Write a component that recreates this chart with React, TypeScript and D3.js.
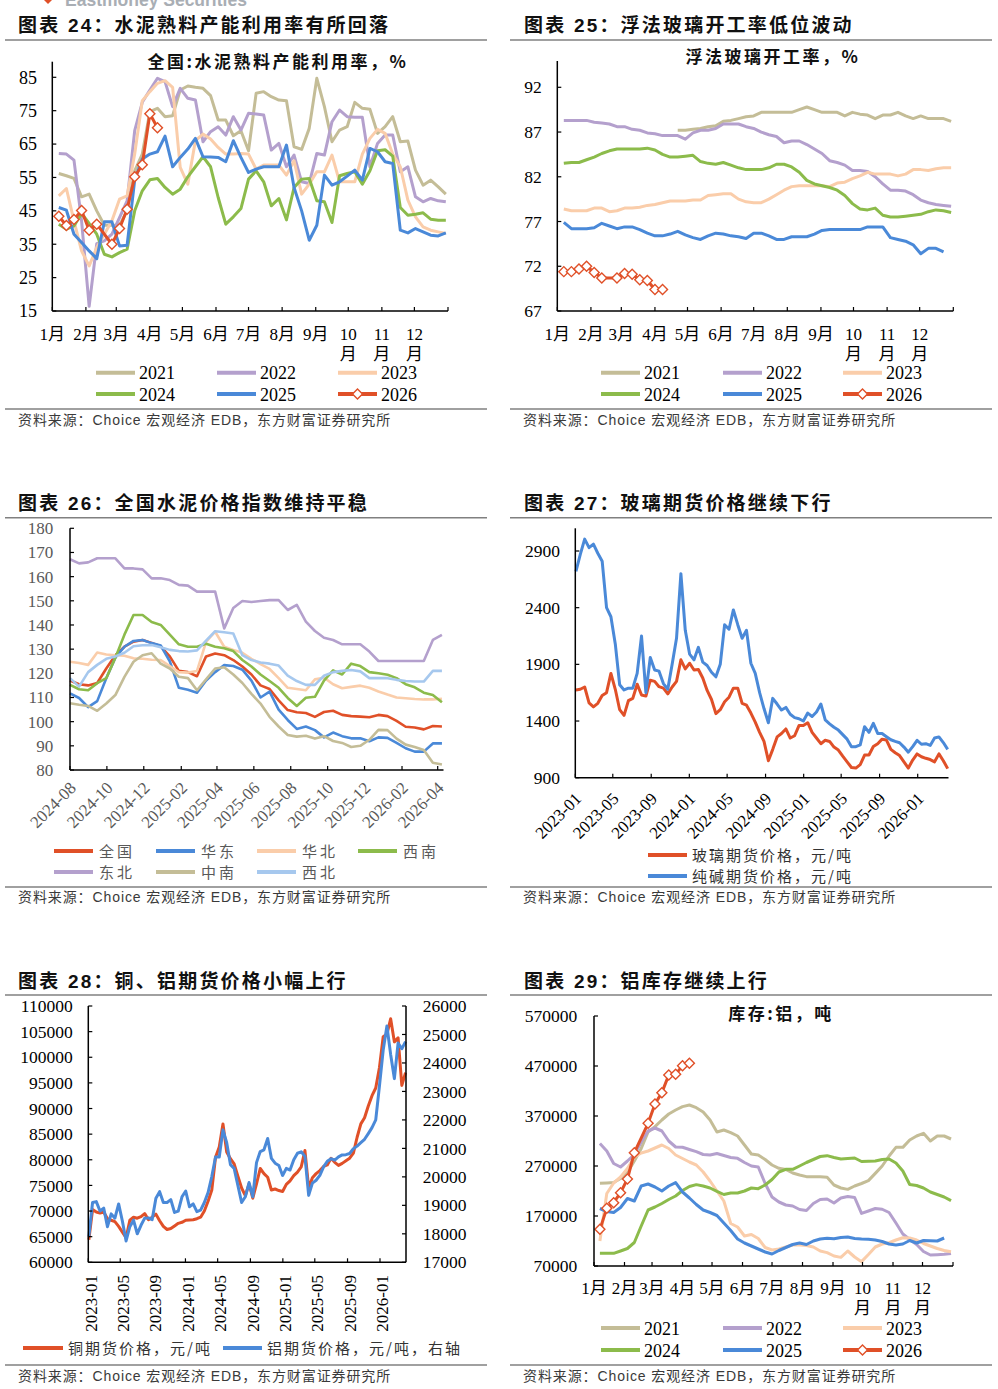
import * as d3 from 'd3';

const SERIF = '"Liberation Serif", "Times New Roman", "Noto Sans CJK SC", serif';
const SANS = '"Liberation Sans", Arial, "Noto Sans CJK SC", sans-serif';
const CJK = '"Noto Sans CJK SC", "Liberation Sans", sans-serif';

const RED = '#e05028';
const BLUE = '#4a89d8';
const TAN = '#c4bd97';
const PURPLE = '#b4a0cd';
const PEACH = '#facdaa';
const GREEN = '#8cbb4b';
const SKY = '#a6c8ee';

// ---------- seasonal charts: one weekly line per year ----------
const YEARS = ['2021', '2022', '2023', '2024', '2025', '2026'];
const YEAR_COLORS = [TAN, PURPLE, PEACH, GREEN, BLUE, RED];
const MONTH_LABELS = ['1月', '2月', '3月', '4月', '5月', '6月', '7月', '8月', '9月', '10月', '11月', '12月'];

// 全国水泥熟料产能利用率, %
const CLINKER_TICKS = [15, 25, 35, 45, 55, 65, 75, 85];
const clinker2021 = [56.2, 55.5, 54.7, 49.2, 50, 45, 40.7, 40.7, 40.7, 45, 57, 62, 74.7, 75.7, 73.2, 73.5, 81.2, 82.4, 82, 81.7, 79.5, 72.2, 72.2, 67.5, 69, 63, 80.2, 80.7, 79.2, 78.2, 78, 64.2, 63.4, 69.7, 84.7, 76.2, 65.7, 69.2, 70.2, 77.5, 75.7, 75.4, 68.2, 70.2, 73.2, 65.7, 65.9, 57.2, 52.7, 54.2, 52.2, 50];
const clinker2022 = [62.2, 62, 60.2, 42, 16.4, 35.2, 36, 38, 43, 48, 69, 77.5, 81.2, 84.7, 83.7, 76.2, 81.7, 78.7, 78.2, 65.7, 68.7, 70.2, 67.7, 73.2, 69.2, 74.2, 74, 73.7, 63.2, 65.2, 58.2, 61.7, 53.7, 53.2, 62.2, 61.7, 71.7, 75.2, 73.2, 73, 73, 58.2, 65.2, 67.7, 67.7, 56.7, 58.2, 49.2, 47.7, 48.7, 48, 47.7];
const clinker2023 = [49.5, 51.7, 42, 33, 28.5, 34, 38, 42, 48.5, 49.5, 62, 78, 80.7, 83.2, 84, 82, 58, 53, 66, 68, 66.5, 64, 62, 62, 62.2, 62, 57.5, 58.7, 58.7, 58.7, 55.7, 60, 50, 53, 56.7, 56.7, 61.7, 53.7, 53.7, 53.7, 62, 66.7, 69.4, 68.2, 62, 58.2, 48.2, 43.2, 40.2, 39.2, 38.7, 38.2];
const clinker2024 = [41, 39.5, 40.5, 44.2, 41.2, 38, 32, 31.2, 32.5, 33.5, 45, 51, 54.3, 54.7, 52, 50, 51.5, 55.2, 58.2, 61.2, 58.2, 49, 41, 43.2, 45.7, 54.5, 57, 53.7, 46.5, 48.7, 42.3, 52, 54.5, 54.7, 48, 47.7, 41.5, 55.5, 56.2, 56.7, 53, 57, 63, 63.3, 61.4, 46, 43.7, 44, 44.4, 42.5, 42.2, 42.2];
const clinker2025 = [46, 45.2, 38, 35.5, 33, 30.7, 41.7, 41.7, 34.5, 34.7, 54.2, 60.5, 62, 62.7, 67.4, 58.2, 61, 63.5, 66.7, 61.2, 61.1, 61, 59.7, 66, 61, 56.5, 57.5, 58.2, 58.2, 58.2, 64.7, 52, 45, 36.2, 40.7, 55.7, 52.7, 53.7, 55.4, 57.2, 54.2, 63.7, 62.7, 59.7, 59.2, 39.2, 38.4, 39.7, 38.7, 37.7, 37.5, 38.4];
const clinker2026 = [43.4, 40.6, 42.4, 45.1, 39.2, 41, null, 35, 39.7, 45.5, 55.2, 58.8, 74.1, 69.9];

// 浮法玻璃开工率, %
const GLASS_RATE_TICKS = [67, 72, 77, 82, 87, 92];
const glassRate2021 = [null, null, null, null, null, null, null, null, null, null, null, null, null, null, null, 87.2, 87.2, 87.3, 87.4, 87.6, 87.7, 88.2, 88.3, 88.5, 88.7, 88.8, 89.2, 89.2, 89.2, 89.2, 89.2, 89.5, 89.8, 89.5, 89.2, 89.2, 89.2, 88.8, 89.2, 89.0, 88.9, 88.5, 88.9, 88.9, 89.2, 88.8, 88.5, 88.8, 88.5, 88.5, 88.5, 88.2];
const glassRate2022 = [88.3, 88.3, 88.3, 88.3, 88.1, 88, 87.9, 87.6, 87.6, 87.3, 87.2, 86.9, 86.8, 86.6, 86.6, 86.6, 86.2, 86.9, 87.2, 87.2, 87.4, 87.9, 87.9, 87.9, 87.6, 87.4, 87.0, 86.7, 86.5, 85.8, 86, 86, 85.6, 85.1, 84.6, 83.8, 83.6, 83.3, 82.7, 82.7, 82.6, 82, 81.2, 80.5, 80.5, 80.4, 80, 79.4, 79.1, 78.9, 78.8, 78.7];
const glassRate2023 = [78.4, 78.2, 78.2, 78.2, 78.5, 78.5, 78.1, 78.2, 78.5, 78.5, 78.6, 78.8, 78.9, 79.1, 79.3, 79.3, 79.3, 79.4, 79.4, 79.9, 80, 80.1, 80.1, 79.5, 79.2, 79.1, 79.1, 79.5, 80, 80.5, 80.9, 81, 81, 81, 81, 80.9, 81.3, 81.4, 81.8, 82.1, 82.5, 82.3, 82.3, 82.3, 82.1, 82.3, 82.8, 82.8, 82.7, 82.9, 83, 83];
const glassRate2024 = [83.5, 83.6, 83.6, 83.9, 84.2, 84.6, 84.9, 85.1, 85.1, 85.1, 85.1, 85.2, 85, 84.5, 84.2, 84.2, 84.3, 84.4, 83.7, 83.5, 83.4, 83.6, 83.3, 83, 82.8, 82.8, 82.8, 83, 83.4, 83.4, 83.1, 82.5, 81.6, 81.2, 81, 80.8, 80.5, 79.9, 79, 78.4, 78.3, 78.5, 77.7, 77.5, 77.5, 77.6, 77.7, 77.8, 78.1, 78.3, 78.2, 78];
const glassRate2025 = [76.9, 76.2, 76.2, 76.2, 76.3, 76.8, 76.5, 76.2, 76.4, 76.4, 76.1, 75.7, 75.4, 75.4, 75.6, 75.9, 75.5, 75.2, 75, 75.4, 75.7, 75.6, 75.4, 75.3, 75.1, 75.7, 75.7, 75.4, 75, 75, 75.3, 75.3, 75.3, 75.6, 76, 76.1, 76.1, 76.1, 76.1, 76.1, 76.4, 76.4, 76.4, 75.2, 75, 74.8, 74.4, 73.4, 74, 74, 73.6];
const glassRate2026 = [71.4, 71.4, 71.7, 72, 71.3, 70.7, null, 70.7, 71.2, 71.1, 70.5, 70.4, 69.4, 69.4];

// 库存:铝, 吨
const ALU_STOCK_TICKS = [70000, 170000, 270000, 370000, 470000, 570000];
const aluStock2021 = [235300, 236000, 237000, 245000, 257000, 280000, 305000, 338000, 348700, 362000, 374000, 382000, 388700, 392000, 386700, 378000, 362000, 338000, 342000, 336700, 330000, 312000, 294000, 292000, 283000, 272000, 265300, 263000, 256000, 252000, 248700, 248700, 248700, 247300, 232000, 226000, 223300, 230000, 235000, 240700, 255300, 270000, 290000, 307300, 307300, 322000, 330000, 335300, 320000, 330000, 330000, 324000];
const aluStock2022 = [315000, 300000, 275000, 268000, 280000, 293000, 318000, 340000, 346000, 340000, 320000, 308000, 307500, 303000, 298700, 293000, 292000, 295000, 291000, 287000, 285300, 277000, 270000, 268000, 235000, 208000, 198000, 192000, 190000, 183000, 181000, 195000, 203000, 204000, 196000, 206000, 209000, 207000, 175300, 180000, 185000, 183500, 177000, 156000, 134000, 123000, 113000, 99000, 92000, 92500, 93300, 95000];
const aluStock2023 = [120000, 215000, 236000, 248000, 265000, 288000, 296000, 300000, 306000, 312000, 305000, 292000, 285000, 278000, 272000, 258000, 240000, 220000, 200000, 155000, 148000, 130000, 133000, 125000, 107000, 102000, 104000, 108000, 112000, 112000, 111000, 108000, 100000, 96700, 90000, 87300, 100000, 88000, 78700, 93000, 108000, 114000, 116500, 122000, 126500, 126000, 122000, 115000, 110000, 105000, 101000, 98700];
const aluStock2024 = [95300, 95300, 95300, 100000, 105000, 117000, 150000, 182000, 188000, 195000, 203000, 210000, 221000, 229000, 232700, 230000, 226000, 219300, 213000, 216000, 216000, 220000, 226000, 224700, 232000, 243000, 258000, 263300, 263300, 270000, 277000, 283000, 289000, 290700, 287000, 284000, 285000, 286000, 279000, 279500, 280000, 283000, 284000, 276000, 260000, 233000, 231000, 226000, 218000, 213000, 208000, 200700];
const aluStock2025 = [185000, 179000, 177000, 187000, 205000, 200000, 230000, 234000, 228000, 220000, 230000, 236700, 218000, 206000, 193000, 182000, 177000, 171000, 156000, 141000, 124000, 116000, 110000, 104000, 98000, 94000, 101000, 107000, 113000, 116000, 113000, 120000, 124000, 125300, 124500, 127000, 128000, 125000, 124000, 123500, 122000, 119000, 114000, 112000, 114000, 121000, 116000, 121000, 120500, 120000, 126000];
const aluStock2026 = [143300, 185300, 196700, 216700, 244000, 296700, null, 355300, 394000, 416700, 452000, 453300, 470700, 475300];

// ---------- 水泥价格指数 (every 15 days from 2024-08-01) ----------
const CEMENT_START = new Date(2024, 7, 1);
const CEMENT_STEP = 15;
const CEMENT_Y_TICKS = [80, 90, 100, 110, 120, 130, 140, 150, 160, 170, 180];
const CEMENT_X_TICKS = ['2024-08', '2024-10', '2024-12', '2025-02', '2025-04', '2025-06', '2025-08', '2025-10', '2025-12', '2026-02', '2026-04'];
const REGIONS = ['全国', '华东', '华北', '西南', '东北', '中南', '西北'];
const REGION_COLORS = [RED, BLUE, PEACH, GREEN, PURPLE, TAN, SKY];
const cementNation = [117, 115.5, 115, 116, 122, 127.5, 131, 133.1, 133.8, 132.6, 131.2, 127, 121, 120.5, 118.8, 127, 128.2, 127.5, 125.5, 122.8, 119.5, 115, 113.5, 108.8, 104.8, 103.9, 103.6, 102, 104, 104.5, 102.8, 102.3, 102.1, 101.8, 102.8, 102.3, 100.3, 97.9, 97.6, 96.8, 98.2, 98];
const cementEast = [111.7, 109.8, 106, 108.5, 118, 126.5, 131, 133.4, 133.8, 132.5, 131.5, 125, 114, 113.2, 112, 117, 120.5, 123.4, 123, 121.5, 117, 110, 112.4, 105, 100.7, 97, 98, 96.5, 93.5, 95.5, 94, 93.1, 93.1, 91.9, 93.5, 93.3, 91.2, 89, 87.6, 87.6, 91, 91];
const cementNorth = [124.8, 124.3, 123.5, 128.6, 127.8, 127.5, 127.3, 126.2, 126, 125.6, 125.5, 123, 120.5, 120.3, 121, 133, 137.2, 131, 129.7, 128.5, 126, 123.8, 121.8, 118, 114, 113.5, 113, 117.5, 118.2, 115.5, 113.8, 114.4, 114.9, 114, 112.5, 111.2, 110, 109.7, 109.4, 109.2, 109.2, 109.5];
const cementSouthwest = [115.2, 113.4, 113, 115.9, 118, 126.5, 136, 144.1, 144.1, 141.2, 140, 136, 132, 131, 131, 132.2, 131, 130.4, 129.2, 125.5, 122.8, 119.5, 116.8, 114, 109.8, 106.5, 109.9, 110.3, 117, 121.2, 119.5, 124, 123, 120.5, 120, 119.4, 118, 115.5, 114.2, 112, 111, 108];
const cementNortheast = [167.2, 165.5, 165.9, 167.6, 167.6, 167.6, 163.4, 163.4, 163, 159.3, 159.3, 158.6, 156.6, 156.3, 153.8, 153.8, 153.8, 138.6, 147, 149.9, 149.5, 149.9, 150.3, 150.3, 146.2, 148.3, 141.4, 137.5, 134.7, 133.8, 132, 132, 132, 129, 125.1, 125.1, 125.1, 125.1, 125.1, 125.1, 133.8, 135.9];
const cementCentralSouth = [107.6, 107, 106.5, 104.5, 107.5, 111, 118.5, 124.8, 127.5, 128.3, 124, 122, 118.6, 118, 113, 117.5, 122, 122.5, 119.5, 116, 111.5, 107.5, 102, 98, 94.5, 93.8, 94.2, 93, 94, 92, 91.2, 89.5, 90, 92.5, 96.6, 96.5, 93, 90.5, 89.5, 88.3, 83, 82.3];
const cementNorthwest = [118, 114.5, 120.5, 123.5, 126, 127, 128.5, 131.2, 131.6, 131.7, 130.8, 129.7, 129.2, 129, 129.5, 133.5, 137.4, 137, 136.5, 127.5, 125.5, 124.5, 124, 123.2, 119, 116.8, 115.2, 115.2, 119, 120.5, 121, 121.4, 120.8, 118, 118, 118, 117.3, 116.8, 116.6, 116.6, 121, 121];

// ---------- futures (every 14 days from 2023-01-03) ----------
const FUT_START = new Date(2023, 0, 3);
const FUT_STEP = 14;
const FUT_X_TICKS = ['2023-01', '2023-05', '2023-09', '2024-01', '2024-05', '2024-09', '2025-01', '2025-05', '2025-09', '2026-01'];

const GLASS_Y_TICKS = [900, 1400, 1900, 2400, 2900];
const glassFut = [1674, 1680, 1700, 1560, 1525, 1556, 1625, 1650, 1820, 1680, 1500, 1450, 1580, 1600, 1725, 1630, 1620, 1760, 1750, 1703, 1690, 1640, 1700, 1750, 1940, 1860, 1910, 1850, 1855, 1780, 1670, 1590, 1465, 1500, 1570, 1610, 1690, 1690, 1556, 1540, 1470, 1390, 1300, 1220, 1050, 1150, 1260, 1290, 1330, 1250, 1270, 1360, 1360, 1385, 1300, 1250, 1200, 1230, 1220, 1170, 1144, 1090, 1040, 990, 985, 1015, 1100, 1100, 1175, 1200, 1240, 1232, 1150, 1120, 1095, 1040, 985, 1056, 1110, 1085, 1071, 1060, 1040, 1110, 1050, 980];
const sodaFut = [2720, 2870, 3005, 2930, 2960, 2880, 2810, 2400, 2320, 2080, 1720, 1674, 1690, 1690, 1820, 2150, 1650, 1960, 1850, 1840, 1730, 1680, 1900, 2130, 2700, 2200, 1990, 1940, 2050, 1920, 1890, 1830, 1790, 1900, 2250, 2210, 2380, 2250, 2130, 2200, 1910, 1820, 1650, 1510, 1385, 1600, 1550, 1497, 1520, 1460, 1430, 1420, 1400, 1470, 1440, 1480, 1550, 1410, 1375, 1345, 1320, 1280, 1240, 1174, 1174, 1190, 1350, 1300, 1380, 1291, 1290, 1262, 1235, 1220, 1208, 1170, 1125, 1174, 1230, 1195, 1200, 1185, 1250, 1260, 1210, 1150];

const COPPER_TICKS = [60000, 65000, 70000, 75000, 80000, 85000, 90000, 95000, 100000, 105000, 110000];
const ALU_TICKS = [17000, 18000, 19000, 20000, 21000, 22000, 23000, 24000, 25000, 26000];
const copperFut = [64400, 70300, 69800, 69600, 69800, 68500, 68200, 67930, 67000, 65900, 64800, 68200, 68800, 68600, 68900, 69500, 68300, 68800, 69400, 68100, 67000, 66400, 66600, 67100, 67600, 67800, 68200, 68260, 68300, 68500, 68800, 70000, 71900, 74100, 80500, 82500, 87000, 81500, 80200, 79200, 76800, 74500, 73000, 75300, 72500, 75300, 78300, 77300, 76600, 74100, 74300, 74000, 73800, 75200, 75900, 76900, 77600, 78600, 81800, 74500, 76500, 77300, 77900, 78700, 79000, 80300, 79500, 78900, 79300, 79800, 80300, 81300, 84400, 87000, 88200, 90500, 92500, 94000, 98000, 104000, 104500, 107500, 103000, 103800, 94500, 97000];
const aluFut = [17900, 19100, 19130, 18800, 18900, 18250, 18700, 18550, 19050, 18450, 17750, 18250, 18480, 18000, 18300, 18550, 18560, 18500, 19250, 19480, 19100, 19100, 19200, 18750, 18800, 19300, 19500, 18950, 19050, 18780, 18830, 19100, 19450, 20010, 20700, 20700, 21650, 21200, 20430, 20300, 19700, 19100, 19300, 19800, 19300, 20500, 20890, 20950, 21350, 20650, 20480, 20400, 20050, 20300, 20240, 20600, 20830, 20880, 20720, 19350, 19780, 19880, 20050, 20350, 20550, 20640, 20590, 20700, 20770, 20780, 20820, 20990, 21080, 21200, 21320, 21520, 21730, 22000, 23200, 24450, 25300, 24300, 23450, 24700, 24500, 24750];

// ---------- page frame ----------
const SOURCE = '资料来源：Choice 宏观经济 EDB，东方财富证券研究所';
const FRAMES = [
  { title: '图表 24：水泥熟料产能利用率有所回落', x: 18, x0: 5, x1: 487, titleY: 32, topY: 40, botY: 409, srcY: 425 },
  { title: '图表 25：浮法玻璃开工率低位波动', x: 524, x0: 510, x1: 992, titleY: 32, topY: 40, botY: 409, srcY: 425 },
  { title: '图表 26：全国水泥价格指数维持平稳', x: 18, x0: 5, x1: 487, titleY: 510, topY: 517.7, botY: 887, srcY: 902 },
  { title: '图表 27：玻璃期货价格继续下行', x: 524, x0: 510, x1: 992, titleY: 510, topY: 517.7, botY: 887, srcY: 902 },
  { title: '图表 28：铜、铝期货价格小幅上行', x: 18, x0: 5, x1: 487, titleY: 988, topY: 995, botY: 1365, srcY: 1381 },
  { title: '图表 29：铝库存继续上行', x: 524, x0: 510, x1: 992, titleY: 988, topY: 995, botY: 1365, srcY: 1381 },
];

type Pt = { t: Date; v: number };

const weekly = (values: (number | null)[]): Pt[] =>
  values.flatMap((v, k) => (v == null ? [] : [{ t: new Date(2021, 0, 7 + 7 * k), v }]));

const stepped = (values: number[], start: Date, step: number): Pt[] =>
  values.map((v, i) => ({ t: d3.timeDay.offset(start, i * step), v }));

const parseMonth = d3.timeParse('%Y-%m');

function Frames() {
  return (
    <g>
      {/* logo strip, only its lower edge lies inside the page */}
      <path d="M44,0 L52,0 L48,4 Z" fill="#e05028" />
      <text x={65} y={6} fontFamily={SANS} fontWeight={700} fontSize={17.5} fill="#a9aeb4">Eastmoney Securities</text>
      {FRAMES.map(f => (
        <g key={f.title}>
          <text x={f.x} y={f.titleY} fontFamily={SANS} fontWeight={700} fontSize={19} letterSpacing={2.2} fill="#111">{f.title}</text>
          <line x1={f.x0} x2={f.x1} y1={f.topY} y2={f.topY} stroke="#808080" strokeWidth={1.5} />
          <line x1={f.x0} x2={f.x1} y1={f.botY} y2={f.botY} stroke="#808080" strokeWidth={1.5} />
          <text x={f.x0 === 5 ? 18 : 523} y={f.srcY} fontFamily={SANS} fontSize={14} letterSpacing={0.9} fill="#3a3a3a">{SOURCE}</text>
        </g>
      ))}
    </g>
  );
}

type SeasonalProps = {
  left: number; right: number; bottom: number; axisTop: number;
  yTicks: number[]; yTopPx: number; labelRight: number; fontSize: number;
  series: (number | null)[][];
  caption: string; captionX: number; captionY: number;
  legendX: number[]; legendY: number[]; monthDy: number;
};

function SeasonalChart(p: SeasonalProps) {
  const x = d3.scaleTime().domain([new Date(2021, 0, 1), new Date(2022, 0, 1)]).range([p.left, p.right]);
  const y = d3.scaleLinear().domain([p.yTicks[0], p.yTicks[p.yTicks.length - 1]]).range([p.bottom, p.yTopPx]);
  const line = d3.line<Pt>().x(d => x(d.t)).y(d => y(d.v));
  const months = d3.timeMonth.range(new Date(2021, 0, 1), new Date(2022, 0, 2));
  const diamond = d3.symbol(d3.symbolSquare, 50)() as string;

  return (
    <g>
      <text x={p.captionX} y={p.captionY} textAnchor="middle" fontFamily={CJK} fontWeight={700} fontSize={17} letterSpacing={2.5} fill="#111">{p.caption}</text>
      {p.series.map((vals, i) => {
        const pts = weekly(vals);
        return (
          <g key={YEARS[i]}>
            <path d={line(pts) as string} fill="none" stroke={YEAR_COLORS[i]} strokeWidth={3} strokeLinejoin="round" />
            {i === 5 && pts.map((d, j) => (
              <path key={j} d={diamond} transform={`translate(${x(d.t)},${y(d.v)}) rotate(45)`} fill="#fff" stroke={RED} strokeWidth={1.4} />
            ))}
          </g>
        );
      })}

      <line x1={p.left} x2={p.left} y1={p.axisTop} y2={p.bottom} stroke="#000" strokeWidth={1.5} />
      <line x1={p.left} x2={p.right} y1={p.bottom} y2={p.bottom} stroke="#000" strokeWidth={1.5} />
      {p.yTicks.map(t => (
        <g key={t}>
          <line x1={p.left} x2={p.left + 4} y1={y(t)} y2={y(t)} stroke="#000" strokeWidth={1.2} />
          <text x={p.labelRight} y={y(t)} dy="0.35em" textAnchor="end" fontFamily={SERIF} fontSize={p.fontSize} fill="#000">{t}</text>
        </g>
      ))}
      {months.map((m, i) => (
        <line key={i} x1={x(m)} x2={x(m)} y1={p.bottom} y2={p.bottom - 4} stroke="#000" strokeWidth={1.2} />
      ))}
      {MONTH_LABELS.map((lab, i) => {
        const cx = x(months[i]);
        if (lab.length > 2) {
          return (
            <g key={lab}>
              <text x={cx} y={p.bottom + p.monthDy} textAnchor="middle" fontFamily={SERIF} fontSize={17}>{lab.slice(0, -1)}</text>
              <text x={cx} y={p.bottom + p.monthDy + 20} textAnchor="middle" fontFamily={SERIF} fontSize={17}>月</text>
            </g>
          );
        }
        return <text key={lab} x={cx} y={p.bottom + p.monthDy} textAnchor="middle" fontFamily={SERIF} fontSize={17}>{lab}</text>;
      })}

      {YEARS.map((yr, i) => {
        const lx = p.legendX[i % 3];
        const ly = p.legendY[Math.floor(i / 3)];
        return (
          <g key={yr}>
            <line x1={lx} x2={lx + 39} y1={ly} y2={ly} stroke={YEAR_COLORS[i]} strokeWidth={4} />
            {i === 5 && <path d={diamond} transform={`translate(${lx + 19.5},${ly}) rotate(45)`} fill="#fff" stroke={RED} strokeWidth={1.4} />}
            <text x={lx + 43} y={ly + 6.5} fontFamily={SERIF} fontSize={18} fill="#000">{yr}</text>
          </g>
        );
      })}
    </g>
  );
}

function CementChart() {
  const left = 70, right = 443.5, bottom = 770, top = 528.3;
  const x = d3.scaleTime().domain([new Date(2024, 7, 1), new Date(2026, 3, 1)]).range([left, 437.7]);
  const y = d3.scaleLinear().domain([80, 180]).range([bottom, top]);
  const line = d3.line<Pt>().x(d => x(d.t)).y(d => y(d.v));
  const series = [cementNation, cementEast, cementNorth, cementSouthwest, cementNortheast, cementCentralSouth, cementNorthwest];
  const legendX = [54, 156, 257, 358];
  const legendY = [851, 872];
  return (
    <g>
      {series.map((vals, i) => (
        <path key={REGIONS[i]} d={line(stepped(vals, CEMENT_START, CEMENT_STEP)) as string} fill="none" stroke={REGION_COLORS[i]} strokeWidth={2.6} strokeLinejoin="round" />
      ))}
      <line x1={left} x2={left} y1={top} y2={bottom} stroke="#000" strokeWidth={1.5} />
      <line x1={left} x2={right} y1={bottom} y2={bottom} stroke="#000" strokeWidth={1.5} />
      {CEMENT_Y_TICKS.map(t => (
        <g key={t}>
          <line x1={left} x2={left + 4} y1={y(t)} y2={y(t)} stroke="#000" strokeWidth={1.2} />
          <text x={53.3} y={y(t)} dy="0.35em" textAnchor="end" fontFamily={SERIF} fontSize={17} fill="#595959">{t}</text>
        </g>
      ))}
      {CEMENT_X_TICKS.map(lab => {
        const tx = x(parseMonth(lab) as Date);
        return (
          <g key={lab}>
            <line x1={tx} x2={tx} y1={bottom} y2={bottom - 4} stroke="#000" strokeWidth={1.2} />
            <text transform={`translate(${tx + 7},${bottom + 19}) rotate(-45)`} textAnchor="end" fontFamily={SERIF} fontSize={17} fill="#595959">{lab}</text>
          </g>
        );
      })}
      {REGIONS.map((r, i) => {
        const lx = legendX[i % 4];
        const ly = legendY[Math.floor(i / 4)];
        return (
          <g key={r}>
            <line x1={lx} x2={lx + 39} y1={ly} y2={ly} stroke={REGION_COLORS[i]} strokeWidth={4} />
            <text x={lx + 45} y={ly + 6} fontFamily={CJK} fontSize={15} letterSpacing={3} fill="#595959">{r}</text>
          </g>
        );
      })}
    </g>
  );
}

function GlassFuturesChart() {
  const left = 575.3, right = 948.5, bottom = 777.7, top = 528.3;
  const x = d3.scaleTime().domain([new Date(2023, 0, 1), new Date(2026, 0, 1)]).range([left, 917.7]);
  const y = d3.scaleLinear().domain([900, 2900]).range([bottom, 551]);
  const line = d3.line<Pt>().x(d => x(d.t)).y(d => y(d.v));
  const names = ['玻璃期货价格，元/吨', '纯碱期货价格，元/吨'];
  const colors = [RED, BLUE];
  const data = [glassFut, sodaFut];
  return (
    <g>
      {data.map((vals, i) => (
        <path key={names[i]} d={line(stepped(vals, FUT_START, FUT_STEP)) as string} fill="none" stroke={colors[i]} strokeWidth={3} strokeLinejoin="round" />
      ))}
      <line x1={left} x2={left} y1={top} y2={bottom} stroke="#000" strokeWidth={1.5} />
      <line x1={left} x2={right} y1={bottom} y2={bottom} stroke="#000" strokeWidth={1.5} />
      {GLASS_Y_TICKS.map(t => (
        <g key={t}>
          <line x1={left} x2={left + 4} y1={y(t)} y2={y(t)} stroke="#000" strokeWidth={1.2} />
          <text x={560} y={y(t)} dy="0.35em" textAnchor="end" fontFamily={SERIF} fontSize={17.5}>{t}</text>
        </g>
      ))}
      {FUT_X_TICKS.map(lab => {
        const tx = x(parseMonth(lab) as Date);
        return (
          <g key={lab}>
            <line x1={tx} x2={tx} y1={bottom} y2={bottom - 4} stroke="#000" strokeWidth={1.2} />
            <text transform={`translate(${tx + 7},${bottom + 22}) rotate(-45)`} textAnchor="end" fontFamily={SERIF} fontSize={17}>{lab}</text>
          </g>
        );
      })}
      {names.map((n, i) => (
        <g key={n}>
          <line x1={648} x2={687} y1={855 + i * 21} y2={855 + i * 21} stroke={colors[i]} strokeWidth={4} />
          <text x={692} y={861 + i * 21} fontFamily={CJK} fontSize={15} letterSpacing={2} fill="#333">{n}</text>
        </g>
      ))}
    </g>
  );
}

function MetalFuturesChart() {
  const left = 88.3, right = 406, bottom = 1262.3, top = 1006;
  const x = d3.scaleTime().domain([new Date(2023, 0, 1), new Date(2026, 0, 1)]).range([left, 380]);
  const yL = d3.scaleLinear().domain([60000, 110000]).range([bottom, top]);
  const yR = d3.scaleLinear().domain([17000, 26000]).range([bottom, top]);
  const lineL = d3.line<Pt>().x(d => x(d.t)).y(d => yL(d.v));
  const lineR = d3.line<Pt>().x(d => x(d.t)).y(d => yR(d.v));
  return (
    <g>
      <path d={lineL(stepped(copperFut, FUT_START, FUT_STEP)) as string} fill="none" stroke={RED} strokeWidth={3} strokeLinejoin="round" />
      <path d={lineR(stepped(aluFut, FUT_START, FUT_STEP)) as string} fill="none" stroke={BLUE} strokeWidth={3} strokeLinejoin="round" />
      <line x1={left} x2={left} y1={top} y2={bottom} stroke="#000" strokeWidth={1.5} />
      <line x1={right} x2={right} y1={top} y2={bottom} stroke="#000" strokeWidth={1.5} />
      <line x1={left} x2={right} y1={bottom} y2={bottom} stroke="#000" strokeWidth={1.5} />
      {COPPER_TICKS.map(t => (
        <g key={t}>
          <line x1={left} x2={left + 4} y1={yL(t)} y2={yL(t)} stroke="#000" strokeWidth={1.2} />
          <text x={72.7} y={yL(t)} dy="0.35em" textAnchor="end" fontFamily={SERIF} fontSize={17.5}>{t}</text>
        </g>
      ))}
      {ALU_TICKS.map(t => (
        <g key={t}>
          <line x1={right - 4} x2={right} y1={yR(t)} y2={yR(t)} stroke="#000" strokeWidth={1.2} />
          <text x={422.7} y={yR(t)} dy="0.35em" fontFamily={SERIF} fontSize={17.5}>{t}</text>
        </g>
      ))}
      {FUT_X_TICKS.map(lab => {
        const tx = x(parseMonth(lab) as Date);
        return (
          <g key={lab}>
            <line x1={tx} x2={tx} y1={bottom} y2={bottom - 4} stroke="#000" strokeWidth={1.2} />
            <text transform={`translate(${tx + 8.4},${bottom + 12.7}) rotate(-90)`} textAnchor="end" fontFamily={SERIF} fontSize={17}>{lab}</text>
          </g>
        );
      })}
      <line x1={23} x2={63} y1={1348} y2={1348} stroke={RED} strokeWidth={4} />
      <text x={68} y={1354} fontFamily={CJK} fontSize={15} letterSpacing={2} fill="#333">铜期货价格，元/吨</text>
      <line x1={223} x2={262} y1={1348} y2={1348} stroke={BLUE} strokeWidth={4} />
      <text x={267} y={1354} fontFamily={CJK} fontSize={15} letterSpacing={2} fill="#333">铝期货价格，元/吨，右轴</text>
    </g>
  );
}

export default function App() {
  return (
    <svg width={998} height={1389} viewBox="0 0 998 1389" style={{ position: 'absolute', left: 0, top: 0, background: '#fff' }}>
      <rect width={998} height={1389} fill="#fff" />
      <Frames />
      <SeasonalChart
        left={52.3} right={448} bottom={311} axisTop={61.7}
        yTicks={CLINKER_TICKS} yTopPx={77.3} labelRight={37} fontSize={18}
        series={[clinker2021, clinker2022, clinker2023, clinker2024, clinker2025, clinker2026]}
        caption="全国:水泥熟料产能利用率，%" captionX={278} captionY={68}
        legendX={[96, 217, 338]} legendY={[372.7, 394]} monthDy={29}
      />
      <SeasonalChart
        left={557.3} right={953.3} bottom={311} axisTop={61}
        yTicks={GLASS_RATE_TICKS} yTopPx={87.3} labelRight={541.7} fontSize={17.5}
        series={[glassRate2021, glassRate2022, glassRate2023, glassRate2024, glassRate2025, glassRate2026]}
        caption="浮法玻璃开工率，%" captionX={773} captionY={63}
        legendX={[601, 723, 843]} legendY={[372.7, 394]} monthDy={29}
      />
      <CementChart />
      <GlassFuturesChart />
      <MetalFuturesChart />
      <SeasonalChart
        left={594} right={953} bottom={1266} axisTop={1016}
        yTicks={ALU_STOCK_TICKS} yTopPx={1016} labelRight={577.3} fontSize={17.5}
        series={[aluStock2021, aluStock2022, aluStock2023, aluStock2024, aluStock2025, aluStock2026]}
        caption="库存:铝，吨" captionX={781} captionY={1020}
        legendX={[601, 723, 843]} legendY={[1328, 1350]} monthDy={28}
      />
    </svg>
  );
}
